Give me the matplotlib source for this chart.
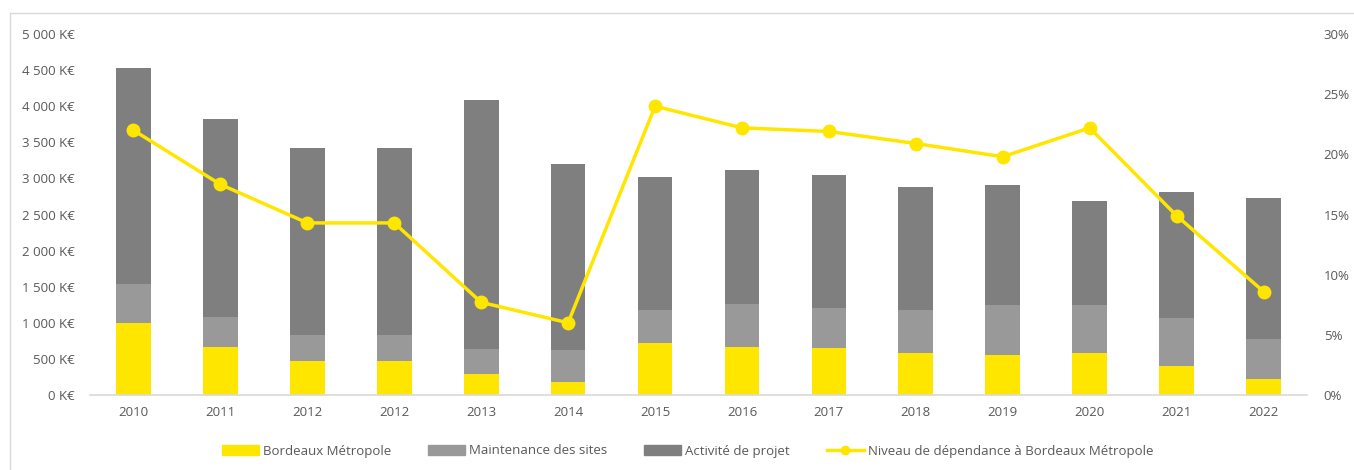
import matplotlib.pyplot as plt
from matplotlib.lines import Line2D
from matplotlib.ticker import FuncFormatter

years = ["2010", "2011", "2012", "2012", "2013", "2014", "2015",
         "2016", "2017", "2018", "2019", "2020", "2021", "2022"]
# K€ per segment
bordeaux = [1000, 665, 471, 471, 295, 184, 716, 669, 655, 586, 554, 586, 397, 222]
maintenance = [537, 415, 360, 360, 342, 439, 461, 591, 550, 591, 693, 661, 674, 549]
projet = [2992, 2743, 2590, 2590, 3445, 2577, 1838, 1856, 1837, 1708, 1666, 1436, 1741, 1953]
# % dependance
dependance = [22.0, 17.5, 14.3, 14.3, 7.7, 6.0, 24.0, 22.2, 21.9, 20.9, 19.8, 22.2, 14.9, 8.6]

YELLOW = "#FFE600"
LIGHT = "#999999"
DARK = "#7F7F7F"
TEXT = "#595959"
FS = 9.5

plt.rcParams["font.family"] = ["Open Sans", "DejaVu Sans"]

fig = plt.figure(figsize=(13.54, 4.70), dpi=100)
ax = fig.add_axes([90 / 1354, 1 - 395 / 470, (1307 - 90) / 1354, (395 - 34) / 470])

x = list(range(len(years)))
w = 0.40
bot2 = bordeaux
bot3 = [a + b for a, b in zip(bordeaux, maintenance)]
ax.bar(x, bordeaux, w, color=YELLOW, zorder=2)
ax.bar(x, maintenance, w, bottom=bot2, color=LIGHT, zorder=2)
ax.bar(x, projet, w, bottom=bot3, color=DARK, zorder=2)

ax.set_xlim(-0.5, len(years) - 0.5)
ax.set_ylim(0, 5000)
ax.set_yticks(range(0, 5001, 500))
ax.yaxis.set_major_formatter(FuncFormatter(lambda v, p: f"{int(v):,} K€".replace(",", " ")))
ax.set_xticks(x)
ax.set_xticklabels(years)
for s in ["top", "right", "left"]:
    ax.spines[s].set_visible(False)
ax.spines["bottom"].set_color("#D9D9D9")
ax.spines["bottom"].set_linewidth(1.2)
ax.tick_params(axis="both", length=0, labelsize=FS, colors=TEXT)
ax.tick_params(axis="y", pad=11)
ax.tick_params(axis="x", pad=8)

ax2 = ax.twinx()
ax2.plot(x, dependance, color=YELLOW, linewidth=2.5, marker="o", markersize=9, zorder=3)
ax2.set_ylim(0, 30)
ax2.set_yticks(range(0, 31, 5))
ax2.yaxis.set_major_formatter(FuncFormatter(lambda v, p: f"{int(v)}%"))
for s in ax2.spines.values():
    s.set_visible(False)
ax2.tick_params(axis="y", length=0, labelsize=FS, colors=TEXT, pad=12)

# chart frame
fig.add_artist(Line2D([10 / 1354, 10 / 1354], [0, 1 - 13 / 470], color="#D9D9D9", lw=1))
fig.add_artist(Line2D([10 / 1354, 1], [1 - 13 / 470, 1 - 13 / 470], color="#D9D9D9", lw=1))

handles = [
    plt.Rectangle((0, 0), 1, 1, color=YELLOW),
    plt.Rectangle((0, 0), 1, 1, color=LIGHT),
    plt.Rectangle((0, 0), 1, 1, color=DARK),
    Line2D([], [], color=YELLOW, lw=2.5, marker="o", markersize=6),
]
labels = ["Bordeaux Métropole", "Maintenance des sites", "Activité de projet",
          "Niveau de dépendance à Bordeaux Métropole"]
fig.legend(handles, labels, loc="center", bbox_to_anchor=(0.508, 1 - 451 / 470), ncol=4,
           frameon=False, fontsize=FS, labelcolor=TEXT, handlelength=2.8,
           handleheight=0.75, handletextpad=0.3, columnspacing=2.8)

fig.savefig("out.png", dpi=100)
